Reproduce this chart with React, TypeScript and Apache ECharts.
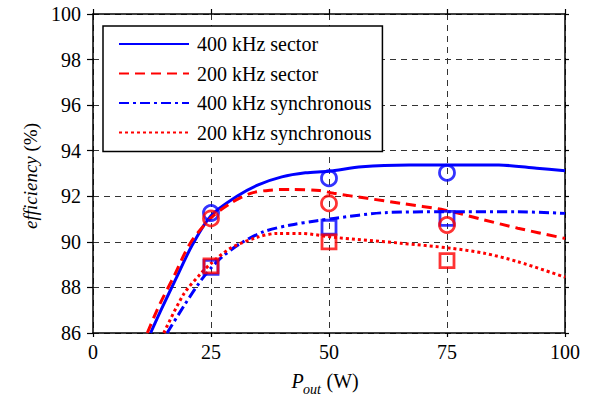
import React, { useEffect, useRef } from "react";
import * as echarts from "echarts";

// Simulated curves (x = Pout in W, y = efficiency in %)
const sector400X = [12.2, 14.5, 17.5, 21, 25, 30.5, 35, 40, 45, 50, 57, 67, 76, 86, 94, 100];
const sector400Y = [86, 87.05, 88.35, 89.85, 91.15, 92.0, 92.5, 92.85, 93.03, 93.1, 93.3, 93.37, 93.37, 93.37, 93.23, 93.12];

const sector200X = [11.5, 14, 17.1, 20.6, 25, 29.1, 33.4, 37.6, 41.9, 48, 51, 58.1, 65.2, 74.4, 82.9, 90, 100];
const sector200Y = [86, 87.2, 88.47, 89.94, 91.05, 91.69, 92.13, 92.27, 92.3, 92.25, 92.13, 91.91, 91.69, 91.4, 90.96, 90.6, 90.15];

const sync400X = [15.7, 19.3, 22.5, 25, 27.7, 31.3, 36.2, 41.9, 47.5, 51, 61.7, 74.4, 90, 100];
const sync400Y = [86, 87.2, 88.2, 88.85, 89.4, 89.94, 90.45, 90.74, 90.93, 91.03, 91.28, 91.32, 91.32, 91.25];

const sync200X = [15, 19.2, 22.8, 25, 29.1, 34.8, 39, 44, 51, 65.2, 75.8, 82.9, 90, 100];
const sync200Y = [86, 87.7, 88.6, 89.05, 89.72, 90.2, 90.37, 90.37, 90.2, 89.94, 89.72, 89.5, 89.13, 88.45];

// Measured points
const measX = [25, 50, 75];
const meas400Sector = [91.27, 92.79, 93.03];
const meas200Sector = [91.03, 91.69, 90.74];
const meas400Sync = [88.88, 90.64, 91.03];
const meas200Sync = [88.95, 90.0, 89.18];

const seriesNames = ["400 kHz sector", "200 kHz sector", "400 kHz synchronous", "200 kHz synchronous"];
const xTicks = [0, 25, 50, 75, 100];
const yTicks = [86, 88, 90, 92, 94, 96, 98, 100];

const BLUE = "#0000ff";
const RED = "#ff0000";
const FONT = "Liberation Serif";

const zip = (xs: number[], ys: number[]) => xs.map((x, i) => [x, ys[i]]);

export default function App() {
  const ref = useRef<HTMLDivElement>(null);
  useEffect(() => {
    if (!ref.current) return;
    const chart = echarts.init(ref.current, undefined, { renderer: "svg" });
    const lineSeries = (name: string, xs: number[], ys: number[], color: string, type: any) => ({
      name,
      type: "line",
      data: zip(xs, ys),
      smooth: 0.3,
      symbol: "none",
      lineStyle: { color, width: 3, type },
      itemStyle: { color },
      z: 3,
    });
    const markSeries = (xs: number[], ys: number[], color: string, symbol: string, size: number) => ({
      type: "scatter",
      data: zip(xs, ys),
      symbol,
      symbolSize: size,
      itemStyle: { color: "rgba(0,0,0,0)", borderColor: color, borderWidth: 2.8 },
      z: 4,
    });
    const labelStyle = { color: "#000", fontFamily: FONT, fontSize: 20 };
    chart.setOption({
      animation: false,
      backgroundColor: "#fff",
      textStyle: { fontFamily: FONT },
      grid: { left: 93, right: 30, top: 14, bottom: 64 },
      xAxis: [
        {
          type: "value",
          min: 0,
          max: 100,
          interval: 25,
          axisLine: { show: true, onZero: false, lineStyle: { color: "#000", width: 1.5 } },
          axisTick: { show: true, inside: false, length: 4, lineStyle: { color: "#000", width: 1.2 } },
          axisLabel: { ...labelStyle, margin: 9, formatter: (v: number) => (xTicks.includes(v) ? String(v) : "") },
          splitLine: { show: true, lineStyle: { color: "#333", width: 1, type: [6, 5] } },
        },
        {
          type: "value",
          position: "top",
          min: 0,
          max: 100,
          interval: 25,
          axisLine: { show: true, onZero: false, lineStyle: { color: "#000", width: 1.5 } },
          axisTick: { show: true, inside: false, length: 5, lineStyle: { color: "#000", width: 1.2 } },
          axisLabel: { show: false },
          splitLine: { show: false },
        },
      ],
      yAxis: [
        {
          type: "value",
          min: 86,
          max: 100,
          interval: 2,
          axisLine: { show: true, onZero: false, lineStyle: { color: "#000", width: 1.5 } },
          axisTick: { show: true, inside: false, length: 6, lineStyle: { color: "#000", width: 1.2 } },
          axisLabel: { ...labelStyle, margin: 12, formatter: (v: number) => (yTicks.includes(v) ? String(v) : "") },
          splitLine: { show: true, lineStyle: { color: "#333", width: 1, type: [6, 5] } },
        },
        {
          type: "value",
          position: "right",
          min: 86,
          max: 100,
          interval: 2,
          axisLine: { show: true, onZero: false, lineStyle: { color: "#000", width: 1.5 } },
          axisTick: { show: true, inside: false, length: 4, lineStyle: { color: "#000", width: 1.2 } },
          axisLabel: { show: false },
          splitLine: { show: false },
        },
      ],
      legend: {
        data: seriesNames,
        orient: "vertical",
        left: 103,
        top: 26,
        itemWidth: 70,
        itemHeight: 14,
        itemGap: 9.5,
        padding: [8, 11, 9, 15],
        backgroundColor: "#fff",
        borderColor: "#000",
        borderWidth: 1.5,
        borderRadius: 0,
        itemStyle: { opacity: 0 },
        textStyle: { color: "#000", fontFamily: FONT, fontSize: 20, padding: [0, 0, 0, 3] },
      },
      series: [
        lineSeries(seriesNames[0], sector400X, sector400Y, BLUE, "solid"),
        lineSeries(seriesNames[1], sector200X, sector200Y, RED, [10, 6]),
        lineSeries(seriesNames[2], sync400X, sync400Y, BLUE, [10, 4, 3, 4]),
        lineSeries(seriesNames[3], sync200X, sync200Y, RED, [3, 3]),
        markSeries(measX, meas400Sector, BLUE, "circle", 15),
        markSeries(measX, meas400Sync, BLUE, "rect", 14),
        markSeries(measX, meas200Sector, RED, "circle", 15),
        markSeries(measX, meas200Sync, RED, "rect", 14),
      ],
      graphic: [
        {
          type: "text",
          x: 30,
          y: 176,
          rotation: Math.PI / 2,
          style: {
            text: "{i|efficiency}{n| (%)}",
            fontFamily: FONT,
            fontSize: 19,
            fill: "#000",
            align: "center",
            verticalAlign: "middle",
            rich: {
              i: { fontStyle: "italic", fontFamily: FONT, fontSize: 19, fill: "#000" },
              n: { fontFamily: FONT, fontSize: 19, fill: "#000" },
            },
          },
        },
        {
          type: "text",
          x: 291.5,
          y: 381,
          style: { text: "P", fontFamily: FONT, fontStyle: "italic", fontSize: 20, fill: "#000", align: "left", verticalAlign: "middle" },
        },
        {
          type: "text",
          x: 303,
          y: 389,
          style: { text: "out", fontFamily: FONT, fontStyle: "italic", fontSize: 14, fill: "#000", align: "left", verticalAlign: "middle" },
        },
        {
          type: "text",
          x: 326.5,
          y: 381,
          style: { text: "(W)", fontFamily: FONT, fontSize: 20, fill: "#000", align: "left", verticalAlign: "middle" },
        },
      ],
    });
    return () => chart.dispose();
  }, []);
  return <div ref={ref} style={{ width: 595, height: 397, position: "absolute", left: 0, top: 0 }} />;
}
